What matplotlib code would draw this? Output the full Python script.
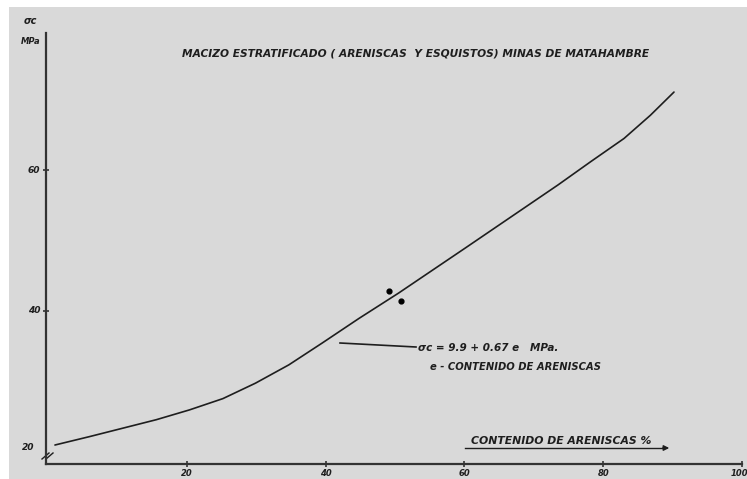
import matplotlib
matplotlib.use("Agg")
import matplotlib.pyplot as plt
from matplotlib.patches import Rectangle
from matplotlib.lines import Line2D

# ---- data ----
curve_x = [1.0, 6.0, 10.8, 15.6, 20.4, 25.2, 29.9, 34.7, 39.5, 44.8, 50.5, 60.1,
           66.8, 73.5, 78.2, 83.0, 86.8, 90.2]
curve_y = [20.9, 22.1, 23.3, 24.5, 25.9, 27.5, 29.7, 32.3, 35.4, 38.9, 42.5, 48.9,
           53.4, 57.9, 61.2, 64.5, 67.8, 71.1]
points_x = [49.2, 50.8]
points_y = [42.8, 41.4]
xticks = [20, 40, 60, 80, 100]
xtick_labels = ["20", "40", "60", "80", "100"]
yticks = [40, 60]
ytick_labels = ["40", "60"]
title = "MACIZO ESTRATIFICADO ( ARENISCAS  Y ESQUISTOS) MINAS DE MATAHAMBRE"
xlabel = "CONTENIDO DE ARENISCAS %"
eq_line1 = "σc = 9.9 + 0.67 e   MPa."
eq_line2 = "e - CONTENIDO DE ARENISCAS"

W, H = 747, 479
ink = "#1e1e1e"
bg = "#d9d9d9"

fig = plt.figure(figsize=(W / 100, H / 100), dpi=100, facecolor="white")
fig.patches.append(Rectangle((9 / W, 0), 1 - 9 / W, 1 - 7 / H, transform=fig.transFigure,
                             facecolor=bg, edgecolor="none", zorder=-10))

def fx(px):
    return px / W

def fy(py):
    return 1 - py / H

# axes placed so data maps onto the picture's pixels
x0, x1 = 46, 742
y0, y1 = 33, 464
ax = fig.add_axes([fx(x0), fy(y1), (x1 - x0) / W, (y1 - y0) / H])
ax.set_zorder(5)
ax.set_facecolor("none")
ax.set_xlim(-0.29, 99.6)
ax.set_ylim(18.2, 79.5)
for s in ["top", "right"]:
    ax.spines[s].set_visible(False)
for s in ["left", "bottom"]:
    ax.spines[s].set_color("#333333")
    ax.spines[s].set_linewidth(1.6)
ax.set_xticks(xticks)
ax.set_xticklabels([])
ax.set_yticks(yticks)
ax.set_yticklabels([])
ax.tick_params(axis="both", direction="inout", length=5, width=1.2, color="#333333")

ax.plot(curve_x, curve_y, color=ink, lw=1.2, solid_capstyle="round",
        solid_joinstyle="round", zorder=3)
ax.scatter(points_x, points_y, s=12, color="black", zorder=4)

font = dict(family="DejaVu Sans", fontweight="bold", fontstyle="italic", color=ink)

# tick labels (hand lettering)
for v, lab in zip(xticks, xtick_labels):
    off = -2 if lab == "100" else 0
    ax.annotate(lab, xy=(v, 18.2), xytext=(off, -6.5), textcoords="offset points",
                ha="center", va="center", fontsize=6, annotation_clip=False, **font)
for v, lab in zip(yticks, ytick_labels):
    ax.annotate(lab, xy=(0, v), xytext=(-10, 0), textcoords="offset points",
                ha="center", va="center", fontsize=6.5, annotation_clip=False, **font)
fig.text(fx(28), fy(447), "20", ha="center", va="center", fontsize=6.5, **font)

# axis break marks
for dx in (0, 4):
    fig.add_artist(Line2D([fx(42 + dx), fx(49 + dx)], [fy(459), fy(453)], color=ink, lw=1.0))

# y-axis title
fig.text(fx(30), fy(21), "σc", ha="center", va="center", fontsize=7, **font)
fig.text(fx(31), fy(41), "MPa", ha="center", va="center", fontsize=6, **font)

# chart title
fig.text(fx(416), fy(54), title, ha="center", va="center", fontsize=7.7, **font)

# x-axis label with arrow
fig.text(fx(561), fy(441), xlabel, ha="center", va="center", fontsize=7.8, **font)
fig.add_artist(Line2D([fx(465), fx(664)], [fy(448), fy(448)], color=ink, lw=1.0))
ax.annotate("", xy=(fx(672), fy(448)), xytext=(fx(660), fy(448)),
            xycoords="figure fraction", textcoords="figure fraction",
            arrowprops=dict(arrowstyle="-|>", color=ink, lw=1.0, mutation_scale=8),
            annotation_clip=False)

# equation annotation with leader line
fig.add_artist(Line2D([fx(340), fx(416)], [fy(343), fy(347)], color=ink, lw=1.2))
fig.text(fx(418), fy(348), eq_line1, ha="left", va="center", fontsize=7.5, **font)
fig.text(fx(430), fy(367), eq_line2, ha="left", va="center", fontsize=7.2, **font)

fig.savefig("out.png", dpi=100, facecolor="white")
